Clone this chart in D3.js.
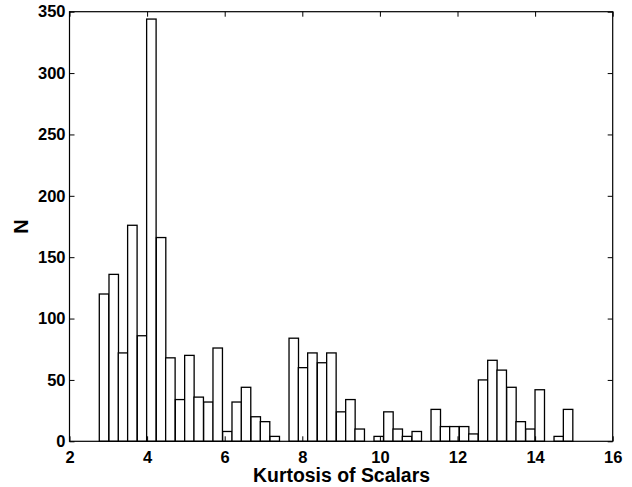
<!DOCTYPE html>
<html>
<head>
<meta charset="utf-8">
<script src="https://cdn.jsdelivr.net/npm/d3@7"></script>
<style>
  body { margin: 0; background: #fff; }
  svg { display: block; }
  svg text { font-family: "Liberation Sans", Arial, Helvetica, sans-serif; font-weight: bold; fill: #000; }
  .tick text { font-size: 16.5px; }
  .tick line { stroke: #000; stroke-width: 1; }
</style>
</head>
<body>
<svg width="632" height="487"></svg>
<script>
// histogram of kurtosis values, 50 bins
var binCenters = [2.89, 3.14, 3.38, 3.62, 3.87, 4.11, 4.36, 4.60, 4.85, 5.09,
                  5.33, 5.58, 5.82, 6.07, 6.31, 6.55, 6.80, 7.04, 7.29, 7.53,
                  7.78, 8.02, 8.26, 8.51, 8.75, 9.00, 9.24, 9.48, 9.73, 9.97,
                  10.22, 10.46, 10.70, 10.95, 11.19, 11.44, 11.68, 11.92, 12.17, 12.41,
                  12.66, 12.90, 13.14, 13.39, 13.63, 13.88, 14.12, 14.36, 14.61, 14.85];
var counts = [120, 136, 72, 176, 86, 344, 166, 68, 34, 70,
              36, 32, 76, 8, 32, 44, 20, 16, 4, 0,
              84, 60, 72, 64, 72, 24, 34, 10, 0, 4,
              24, 10, 4, 8, 0, 26, 12, 12, 12, 6,
              50, 66, 58, 44, 16, 10, 42, 0, 4, 26];
var xTicks = [2, 4, 6, 8, 10, 12, 14, 16];
var yTicks = [0, 50, 100, 150, 200, 250, 300, 350];
var binWidth = 0.2442;

var svg = d3.select("svg");
var margin = { top: 11.7, right: 19.3, bottom: 45.7, left: 69.5 };
var width = +svg.attr("width");
var height = +svg.attr("height");
var innerWidth = width - margin.left - margin.right;
var innerHeight = height - margin.top - margin.bottom;

var data = binCenters.map((c, i) => ({ center: c, n: counts[i] }));

var xScale = d3.scaleLinear().domain([2, 16]).range([0, innerWidth]);
var yScale = d3.scaleLinear().domain([0, 350]).range([innerHeight, 0]);

var g = svg.append("g")
  .attr("transform", `translate(${margin.left}, ${margin.top})`);

// bars
g.selectAll("rect.bar")
  .data(data.filter(d => d.n > 0))
  .enter()
  .append("rect")
  .attr("class", "bar")
  .attr("x", d => xScale(d.center - binWidth / 2))
  .attr("width", d => xScale(d.center + binWidth / 2) - xScale(d.center - binWidth / 2))
  .attr("y", d => yScale(d.n))
  .attr("height", d => yScale(0) - yScale(d.n))
  .attr("fill", "#fff")
  .attr("stroke", "#000")
  .attr("stroke-width", 1.3);

// axes with inward ticks (matlab style)
g.append("g")
  .attr("transform", `translate(0, ${innerHeight})`)
  .call(d3.axisBottom(xScale).tickValues(xTicks).tickSizeInner(-5).tickSizeOuter(0).tickPadding(10));
g.append("g")
  .call(d3.axisLeft(yScale).tickValues(yTicks).tickSizeInner(-5).tickSizeOuter(0).tickPadding(4));
g.append("g")
  .call(d3.axisTop(xScale).tickValues(xTicks).tickSizeInner(-5).tickSizeOuter(0).tickFormat(""));
g.append("g")
  .attr("transform", `translate(${innerWidth}, 0)`)
  .call(d3.axisRight(yScale).tickValues(yTicks).tickSizeInner(-5).tickSizeOuter(0).tickFormat(""));

g.selectAll(".domain").remove();
g.selectAll("g").attr("font-family", null);

g.append("rect")
  .attr("width", innerWidth)
  .attr("height", innerHeight)
  .attr("fill", "none")
  .attr("stroke", "#000")
  .attr("stroke-width", 1.2);

// labels
svg.append("text")
  .attr("x", 341.5)
  .attr("y", 481.5)
  .attr("text-anchor", "middle")
  .attr("font-size", 20)
  .attr("textLength", 177)
  .attr("lengthAdjust", "spacingAndGlyphs")
  .text("Kurtosis of Scalars");

svg.append("text")
  .attr("transform", `translate(28, ${margin.top + innerHeight / 2}) rotate(-90)`)
  .attr("text-anchor", "middle")
  .attr("font-size", 20)
  .text("N");
</script>
</body>
</html>
